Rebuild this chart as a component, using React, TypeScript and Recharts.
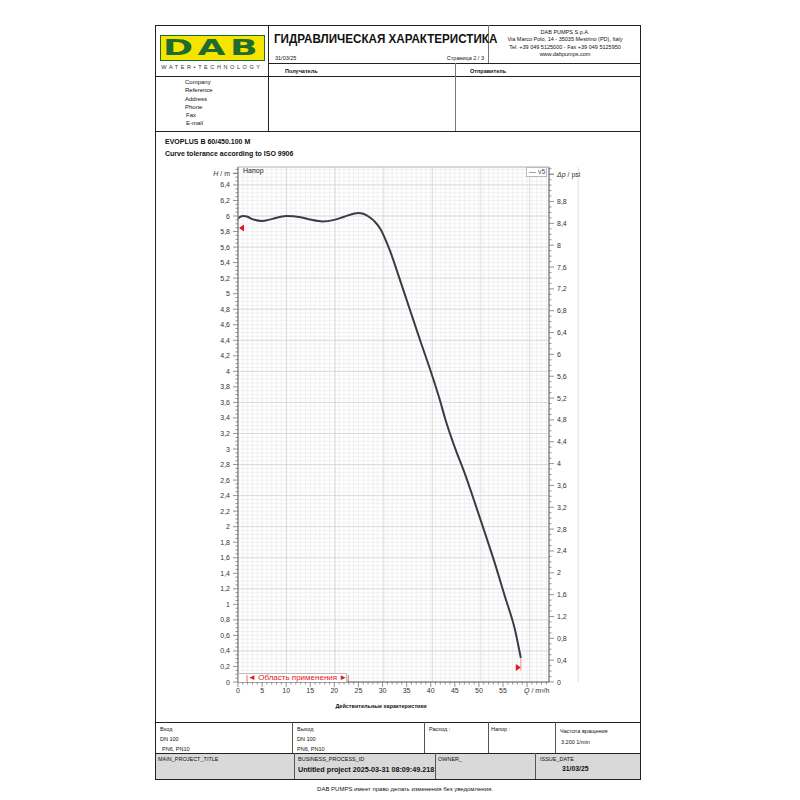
import React from 'react'
import {
  ComposedChart,
  Line,
  XAxis,
  YAxis,
  CartesianGrid,
  ReferenceArea,
  ReferenceDot,
  ReferenceLine,
} from 'recharts'

// pump curve H(Q)
const flowQ = [0, 1, 2, 3, 5, 7, 10, 13, 15, 17.5, 20, 22, 24, 25, 26, 27.4, 28.5, 29.5, 31.5, 33.6, 35.7, 37.8, 39.9, 41.9, 43, 45, 47.1, 49.2, 51.3, 53.3, 55.4, 57.5, 58.7]
const headH = [5.97, 6.0, 5.99, 5.96, 5.935, 5.96, 6.0, 5.985, 5.955, 5.93, 5.95, 5.99, 6.03, 6.04, 6.03, 5.98, 5.92, 5.84, 5.56, 5.18, 4.79, 4.4, 4.02, 3.63, 3.39, 3.02, 2.68, 2.3, 1.91, 1.53, 1.1, 0.67, 0.31]

// tolerance markers
const leftMark = { q: 0, h: 5.845 }
const endMark = { q: 58.7, h: 0.187, top: 0.31 }

// axis ranges / ticks
const Q_MAX = 64.55
const H_MAX = 6.631
const PSI_PER_M = 1.42233
const PSI_MAX = H_MAX * PSI_PER_M
const qMajorTicks = [0, 5, 10, 15, 20, 25, 30, 35, 40, 45, 50, 55, 60]
const hMajorTicks = [0, 0.2, 0.4, 0.6, 0.8, 1, 1.2, 1.4, 1.6, 1.8, 2, 2.2, 2.4, 2.6, 2.8, 3, 3.2, 3.4, 3.6, 3.8, 4, 4.2, 4.4, 4.6, 4.8, 5, 5.2, 5.4, 5.6, 5.8, 6, 6.2, 6.4]
const psiLabels = [0, 0.4, 0.8, 1.2, 1.6, 2, 2.4, 2.8, 3.2, 3.6, 4, 4.4, 4.8, 5.2, 5.6, 6, 6.4, 6.8, 7.2, 7.6, 8, 8.4, 8.8]
const qTicks = Array.from({ length: 65 }, (_, i) => i)
const hTicks = Array.from({ length: 133 }, (_, i) => Math.round(i * 5) / 100)
const psiTicks = Array.from({ length: 95 }, (_, i) => Math.round(i) / 10)
const Q_LABEL_AT = 62
const H_LABEL_AT = 6.55
const PSI_LABEL_AT = 9.3

const curve = flowQ.map((q, i) => ({ q, h: headH[i] }))

const near = (a: number, b: number) => Math.abs(a - b) < 1e-6
const inList = (v: number, list: number[]) => list.some((t) => near(t, v))
const fmt = (v: number) => String(Math.round(v * 10) / 10).replace('.', ',')

const FONT = '"Liberation Sans", Arial, sans-serif'
const TICK = '#666'

const HTick = (p: any) => {
  const { x, y, payload } = p
  const v = payload.value
  if (near(v, H_LABEL_AT)) {
    return (
      <g>
        <line x1={x - 5} x2={x} y1={y} y2={y} stroke={TICK} />
        <text x={x - 8} y={y} dy={2.5} textAnchor="end" fontSize={7} fill="#333" fontFamily={FONT}>
          <tspan fontStyle="italic">H</tspan> / m
        </text>
      </g>
    )
  }
  const major = inList(v, hMajorTicks)
  return (
    <g>
      <line x1={x - (major ? 5 : 2.5)} x2={x} y1={y} y2={y} stroke={TICK} strokeWidth={0.7} />
      {major && (
        <text x={x - 8} y={y} dy={2.5} textAnchor="end" fontSize={7} fill="#333" fontFamily={FONT}>
          {fmt(v)}
        </text>
      )}
    </g>
  )
}

const PsiTick = (p: any) => {
  const { x, y, payload } = p
  const v = payload.value
  if (near(v, PSI_LABEL_AT)) {
    return (
      <g>
        <line x1={x} x2={x + 5} y1={y} y2={y} stroke={TICK} />
        <text x={x + 8} y={y} dy={2.5} textAnchor="start" fontSize={7} fill="#333" fontFamily={FONT}>
          <tspan fontStyle="italic">Δp</tspan> / psi
        </text>
      </g>
    )
  }
  const major = inList(v, psiLabels)
  return (
    <g>
      <line x1={x} x2={x + (major ? 5 : 2.5)} y1={y} y2={y} stroke={TICK} strokeWidth={0.7} />
      {major && (
        <text x={x + 8} y={y} dy={2.5} textAnchor="start" fontSize={7} fill="#333" fontFamily={FONT}>
          {fmt(v)}
        </text>
      )}
    </g>
  )
}

const QTick = (p: any) => {
  const { x, y, payload } = p
  const v = payload.value
  if (near(v, Q_LABEL_AT)) {
    return (
      <g>
        <line x1={x} x2={x} y1={y} y2={y + 2.5} stroke={TICK} strokeWidth={0.7} />
        <text x={x} y={y + 11} textAnchor="middle" fontSize={7} fill="#333" fontFamily={FONT}>
          <tspan fontStyle="italic">Q</tspan> / m³/h
        </text>
      </g>
    )
  }
  const major = v % 5 === 0
  const labelled = major && v <= 55
  return (
    <g>
      <line x1={x} x2={x} y1={y} y2={y + (major ? 5 : 2.5)} stroke={TICK} strokeWidth={0.7} />
      {labelled && (
        <text x={x} y={y + 11} textAnchor="middle" fontSize={7} fill="#333" fontFamily={FONT}>
          {v}
        </text>
      )}
    </g>
  )
}

const LeftFlag = (p: any) => (
  <polygon points={`${p.cx + 1},${p.cy} ${p.cx + 6},${p.cy - 3.5} ${p.cx + 6},${p.cy + 3.5}`} fill="#e8141e" />
)
const RightFlag = (p: any) => (
  <polygon points={`${p.cx},${p.cy} ${p.cx - 5},${p.cy - 3.5} ${p.cx - 5},${p.cy + 3.5}`} fill="#e8141e" />
)

type TxtProps = { x: number; y: number; s?: number; b?: boolean; a?: 'l' | 'c' | 'r'; c?: string; children: React.ReactNode }
const Txt = ({ x, y, s = 5.5, b = false, a = 'l', c = '#111', children }: TxtProps) => (
  <div
    style={{
      position: 'absolute',
      left: x,
      top: y - s * 0.6,
      fontSize: s,
      lineHeight: `${s * 1.2}px`,
      fontWeight: b ? 700 : 400,
      color: c,
      whiteSpace: 'nowrap',
      transform: a === 'c' ? 'translateX(-50%)' : a === 'r' ? 'translateX(-100%)' : undefined,
    }}
  >
    {children}
  </div>
)

const H = ({ x1, x2, y, c = '#222' }: { x1: number; x2: number; y: number; c?: string }) => (
  <div style={{ position: 'absolute', left: x1, top: y, width: x2 - x1, height: 1, background: c }} />
)
const V = ({ x, y1, y2, c = '#222' }: { x: number; y1: number; y2: number; c?: string }) => (
  <div style={{ position: 'absolute', left: x, top: y1, width: 1, height: y2 - y1, background: c }} />
)

export default function App() {
  return (
    <div style={{ position: 'absolute', left: 0, top: 0, width: 800, height: 800, background: '#fff', fontFamily: FONT }}>
      {/* bottom gray band */}
      <div style={{ position: 'absolute', left: 155, top: 753, width: 486, height: 27, background: '#d9d9d9' }} />

      {/* frame */}
      <H x1={155} x2={641} y={25} />
      <H x1={268} x2={641} y={63} />
      <H x1={155} x2={641} y={76} />
      <H x1={155} x2={641} y={131} />
      <H x1={155} x2={641} y={722} />
      <H x1={155} x2={641} y={753} />
      <H x1={155} x2={641} y={779} />
      <V x={155} y1={25} y2={780} />
      <V x={640} y1={25} y2={780} />
      <V x={268} y1={25} y2={131} />
      <V x={488} y1={25} y2={63} c="#777" />
      <V x={455} y1={63} y2={131} c="#777" />
      <V x={292} y1={722} y2={753} c="#555" />
      <V x={424} y1={722} y2={753} c="#555" />
      <V x={488} y1={722} y2={753} c="#555" />
      <V x={555} y1={722} y2={753} c="#555" />
      <V x={294} y1={753} y2={779} c="#555" />
      <V x={435} y1={753} y2={779} c="#555" />
      <V x={535} y1={753} y2={779} c="#555" />

      {/* logo */}
      <div style={{ position: 'absolute', left: 160, top: 35, width: 105, height: 26, background: '#f4e400', border: '1.5px solid #1d6b31', boxSizing: 'border-box', overflow: 'hidden' }}>
        <div style={{ position: 'absolute', left: 0, top: 1, width: '100%', textAlign: 'center', fontSize: 25, lineHeight: '22px', fontWeight: 900, color: '#1d6b31', letterSpacing: 3, transform: 'scaleX(1.45) scaleY(0.85)', fontFamily: '"DejaVu Sans", sans-serif' }}>DAB</div>
      </div>
      <Txt x={212} y={67} s={5.5} a="c" c="#333">
        <span style={{ letterSpacing: 2.6 }}>WATER•TECHNOLOGY</span>
      </Txt>

      {/* header */}
      <Txt x={274} y={39} s={12} b>
        <span style={{ display: 'inline-block', transform: 'scaleX(0.97)', transformOrigin: 'left' }}>ГИДРАВЛИЧЕСКАЯ ХАРАКТЕРИСТИКА</span>
      </Txt>
      <Txt x={275} y={58} s={5.5}>31/03/25</Txt>
      <Txt x={484} y={58} s={5.5} a="r">Страница 2 / 3</Txt>
      <Txt x={565} y={32} s={5.5} a="c">DAB PUMPS S.p.A.</Txt>
      <Txt x={565} y={39.5} s={5.5} a="c">Via Marco Polo, 14 - 35035 Mestrino (PD), Italy</Txt>
      <Txt x={565} y={47} s={5.5} a="c">Tel. +39 049 5125000 - Fax +39 049 5125950</Txt>
      <Txt x={565} y={54} s={5.5} a="c">www.dabpumps.com</Txt>
      <Txt x={285} y={71} s={5.5} b>Получатель</Txt>
      <Txt x={470} y={71} s={5.5} b>Отправитель</Txt>
      <Txt x={185} y={83} s={6}>Company</Txt>
      <Txt x={185} y={91} s={6}>Reference</Txt>
      <Txt x={185} y={99.5} s={6}>Address</Txt>
      <Txt x={185} y={108} s={6}>Phone</Txt>
      <Txt x={186} y={116} s={6}>Fax</Txt>
      <Txt x={186} y={124} s={6}>E-mail</Txt>

      <Txt x={165} y={142} s={7} b>EVOPLUS B 60/450.100 M</Txt>
      <Txt x={165} y={154.5} s={7} b>Curve tolerance according to ISO 9906</Txt>

      {/* chart */}
      <div style={{ position: 'absolute', left: 155, top: 160, width: 486, height: 562 }}>
        <ComposedChart width={486} height={562} data={curve} margin={{ top: 7, right: 0, bottom: 0, left: 0 }}>
          <XAxis
            xAxisId="q"
            type="number"
            dataKey="q"
            domain={[0, Q_MAX]}
            ticks={qTicks}
            interval={0}
            tickSize={0}
            tickMargin={0}
            tickLine={false}
            tick={QTick}
            axisLine={{ stroke: '#777' }}
            height={40}
            allowDataOverflow
          />
          <XAxis xAxisId="qMajor" type="number" hide domain={[0, Q_MAX]} ticks={qMajorTicks} allowDataOverflow />
          <YAxis
            yAxisId="m"
            type="number"
            domain={[0, H_MAX]}
            ticks={hTicks}
            interval={0}
            width={83}
            tickSize={0}
            tickMargin={0}
            tickLine={false}
            tick={HTick}
            axisLine={{ stroke: '#777' }}
            allowDataOverflow
          />
          <YAxis yAxisId="mMajor" type="number" hide domain={[0, H_MAX]} ticks={hMajorTicks} allowDataOverflow />
          <YAxis
            yAxisId="psi"
            orientation="right"
            type="number"
            domain={[0, PSI_MAX]}
            ticks={psiTicks}
            interval={0}
            width={92}
            tickSize={0}
            tickMargin={0}
            tickLine={false}
            tick={PsiTick}
            axisLine={{ stroke: '#777' }}
            allowDataOverflow
          />
          <CartesianGrid xAxisId="q" yAxisId="m" stroke="#ebebeb" strokeWidth={0.7} />
          <CartesianGrid xAxisId="qMajor" yAxisId="mMajor" stroke="#d6d6d6" strokeWidth={0.8} />
          <ReferenceArea xAxisId="q" yAxisId="m" x1={0} x2={Q_MAX} y1={0} y2={H_MAX} fill="none" stroke="#c4c4c4" />
          <ReferenceLine
            xAxisId="q"
            yAxisId="m"
            segment={[{ x: endMark.q, y: 0.15 }, { x: endMark.q, y: endMark.top }]}
            stroke="#f07a7a"
            strokeWidth={0.8}
          />
          <Line
            xAxisId="q"
            yAxisId="m"
            type="monotone"
            dataKey="h"
            stroke="#363c48"
            strokeWidth={2}
            dot={false}
            isAnimationActive={false}
          />
          <ReferenceDot xAxisId="q" yAxisId="m" x={leftMark.q} y={leftMark.h} r={0} shape={LeftFlag} />
          <ReferenceDot xAxisId="q" yAxisId="m" x={endMark.q} y={endMark.h} r={0} shape={RightFlag} />
        </ComposedChart>
      </div>

      {/* chart overlays */}
      <Txt x={243} y={171} s={7} c="#222">Напор</Txt>
      <div style={{ position: 'absolute', left: 526, top: 167, width: 21, height: 10, border: '1px solid #bbb', background: '#fff', boxSizing: 'border-box', fontSize: 7, lineHeight: '8px', color: '#555', whiteSpace: 'nowrap', paddingLeft: 2 }}>
        — v5
      </div>
      <div style={{ position: 'absolute', left: 238, top: 673, width: 109, height: 9, border: '1px solid #bbb', borderBottom: 'none', background: '#fff', boxSizing: 'border-box', fontSize: 8, lineHeight: '8px', color: '#e8141e', whiteSpace: 'nowrap', paddingLeft: 7 }}>
        |◄ Область применения ►|
      </div>
      <Txt x={381} y={706} s={5.5} b a="c">Действительные характеристики</Txt>

      {/* bottom table */}
      <Txt x={160} y={729} s={5.5}>Вход</Txt>
      <Txt x={160} y={739} s={5.5}>DN 100</Txt>
      <Txt x={162} y={749} s={5.5}>PN6, PN10</Txt>
      <Txt x={297} y={729} s={5.5}>Выход</Txt>
      <Txt x={297} y={739} s={5.5}>DN 100</Txt>
      <Txt x={297} y={749} s={5.5}>PN6, PN10</Txt>
      <Txt x={429} y={729} s={5.5}>Расход :</Txt>
      <Txt x={491} y={729} s={5.5}>Напор :</Txt>
      <Txt x={560} y={731} s={5.5}>Частота вращения</Txt>
      <Txt x={561} y={742} s={5.5}>3.200 1/min</Txt>
      <Txt x={158} y={759} s={5.5}>MAIN_PROJECT_TITLE</Txt>
      <Txt x={298} y={759} s={5.5}>BUSINESS_PROCESS_ID</Txt>
      <Txt x={298} y={770} s={7.2} b>Untitled project 2025-03-31 08:09:49.218</Txt>
      <Txt x={438} y={759} s={5.5}>OWNER_</Txt>
      <Txt x={540} y={759} s={5.5}>ISSUE_DATE</Txt>
      <Txt x={562} y={769} s={6.8} b>31/03/25</Txt>

      <Txt x={405} y={790} s={6}>
        <span style={{ display: 'inline-block', transform: 'translateX(-50%)' }}>DAB PUMPS имеет право делать изменения без уведомления.</span>
      </Txt>
    </div>
  )
}
